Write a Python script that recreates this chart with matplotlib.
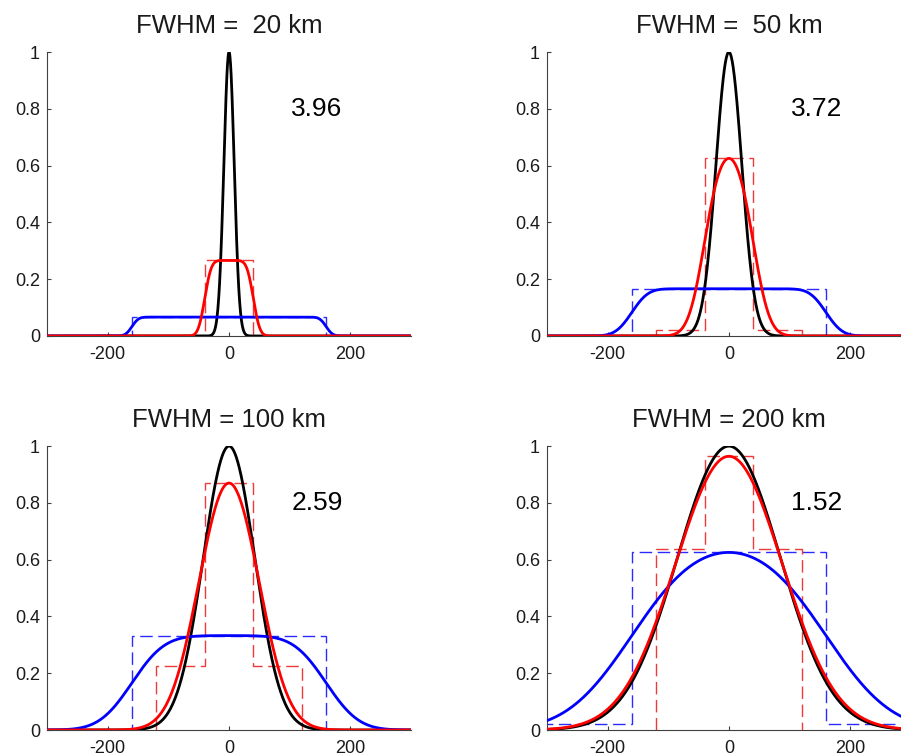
import numpy as np
import matplotlib
matplotlib.use("Agg")
import matplotlib.pyplot as plt

# Gaussian sources (FWHM in km) smoothed by two pixel sizes
FWHM_KM = [20, 50, 100, 200]
TITLES = ["FWHM =  20 km", "FWHM =  50 km", "FWHM = 100 km", "FWHM = 200 km"]
RATIO_LABELS = ["3.96", "3.72", "2.59", "1.52"]
RED_WINDOW_KM = 80
BLUE_WINDOW_KM = 320
RED_BIN_EDGES = [-120, -40, 40, 120]
BLUE_BIN_EDGES = [-480, -160, 160, 480]
X_TICKS = [-200, 0, 200]
Y_TICKS = [0, 0.2, 0.4, 0.6, 0.8, 1]

plt.rcParams["font.family"] = ["Liberation Sans", "DejaVu Sans"]
plt.rcParams["axes.unicode_minus"] = False

AX_POS = [
    (0.0522, 0.555),
    (0.607, 0.555),
    (0.0522, 0.0331),
    (0.607, 0.0331),
]
AX_W, AX_H = 0.404, 0.376
AXIS_COLOR = "#404040"
LABEL_COLOR = "#1a1a1a"

# fine grid for the profiles and their running means
grid = np.arange(-1000, 1000.25, 0.25)


def gauss(x, fwhm):
    return np.exp(-4 * np.log(2) * x ** 2 / fwhm ** 2)


def cumulative(fwhm):
    g = gauss(grid, fwhm)
    c = np.concatenate([[0], np.cumsum((g[1:] + g[:-1]) / 2 * np.diff(grid))])
    return c


def window_mean(c, lo, hi):
    return (np.interp(hi, grid, c) - np.interp(lo, grid, c)) / (np.asarray(hi) - np.asarray(lo))


fig = plt.figure(figsize=(9.01, 7.55), dpi=100)

for i, fwhm in enumerate(FWHM_KM):
    ax = fig.add_axes([AX_POS[i][0], AX_POS[i][1], AX_W, AX_H])
    c = cumulative(fwhm)
    x = np.arange(-300, 300.5, 0.5)

    black = gauss(x, fwhm)
    red = window_mean(c, x - RED_WINDOW_KM / 2, x + RED_WINDOW_KM / 2)
    blue = window_mean(c, x - BLUE_WINDOW_KM / 2, x + BLUE_WINDOW_KM / 2)

    red_edges = np.array(RED_BIN_EDGES, dtype=float)
    blue_edges = np.array(BLUE_BIN_EDGES, dtype=float)
    red_bins = window_mean(c, red_edges[:-1], red_edges[1:])
    blue_bins = window_mean(c, blue_edges[:-1], blue_edges[1:])

    ax.stairs(blue_bins, blue_edges, baseline=0, color="#2b2bff",
              linewidth=1.0, linestyle=(0, (9, 4)), zorder=1)
    ax.stairs(red_bins, red_edges, baseline=0, color="#ee3a3a",
              linewidth=1.0, linestyle=(0, (9, 4)), zorder=1)

    ax.plot(x, black, color="black", linewidth=2.0, zorder=3)
    ax.plot(x, blue, color="#0000ff", linewidth=2.0, zorder=3)
    ax.plot(x, red, color="#ff0000", linewidth=2.0, zorder=4)

    ax.text(145, 0.8, RATIO_LABELS[i], fontsize=19, ha="center", va="center",
            color="black")

    ax.set_xlim(-300, 300)
    ax.set_ylim(0, 1)
    ax.set_xticks(X_TICKS)
    ax.set_yticks(Y_TICKS)
    ax.set_yticklabels(["0", "0.2", "0.4", "0.6", "0.8", "1"])
    ax.spines[["top", "right"]].set_visible(False)
    ax.spines[["left", "bottom"]].set_color(AXIS_COLOR)
    ax.spines[["left", "bottom"]].set_linewidth(0.8)
    ax.tick_params(direction="in", length=3, width=0.8, color=AXIS_COLOR,
                   labelsize=13, labelcolor=LABEL_COLOR)
    ax.tick_params(axis="y", pad=5)
    ax.tick_params(axis="x", pad=7)
    ax.patch.set_visible(False)
    ax.set_title(TITLES[i], fontsize=18.5, pad=14, color=LABEL_COLOR)

fig.savefig("out.png", dpi=100)
